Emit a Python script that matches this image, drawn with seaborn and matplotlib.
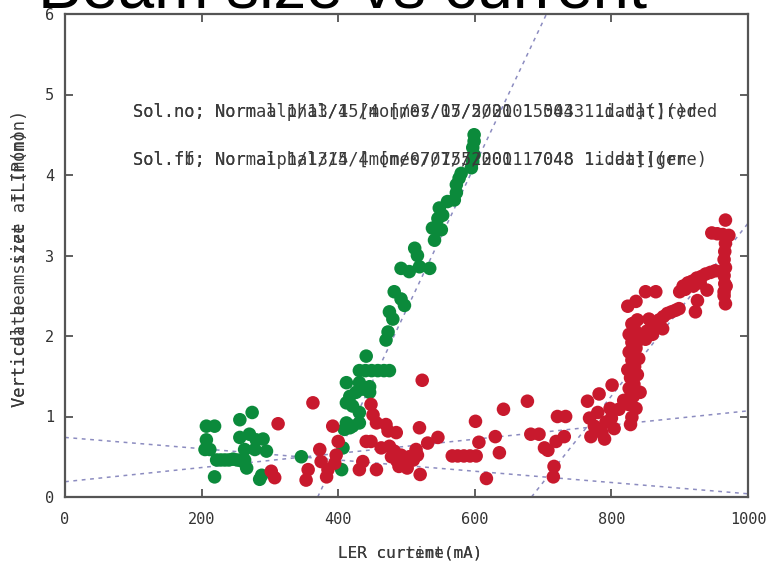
import matplotlib
matplotlib.use("Agg")
import matplotlib.pyplot as plt
import seaborn as sns
import pandas as pd

# Solenoid OFF run (green)
green_x = [207, 219, 207, 205, 212,
           222, 228, 234, 240, 246, 252, 258,
           219, 256, 274, 256, 270, 280, 290,
           263, 278, 295, 263, 266, 288, 285,
           346, 405, 407,
           409, 417, 412, 421, 431, 412, 421, 431,
           412, 417, 426, 436, 446, 431, 446,
           441, 431, 440, 449, 458, 467, 475,
           470, 473, 475, 480, 482, 492, 497,
           492, 504, 519, 534, 512, 516, 541,
           538, 551, 546, 553, 548, 560, 570, 573,
           573, 577, 580, 595, 597, 599, 597, 599, 599]
green_y = [0.88, 0.88, 0.71, 0.59, 0.59,
           0.46, 0.46, 0.46, 0.46, 0.47, 0.46, 0.45,
           0.25, 0.96, 1.05, 0.74, 0.78, 0.71, 0.72,
           0.59, 0.59, 0.57, 0.46, 0.36, 0.27, 0.22,
           0.50, 0.34, 0.61,
           0.84, 0.86, 0.92, 0.88, 0.92, 1.17, 1.13, 1.05,
           1.42, 1.25, 1.30, 1.34, 1.30, 1.42, 1.37,
           1.75, 1.57, 1.57, 1.57, 1.57, 1.57, 1.57,
           1.95, 2.05, 2.30, 2.21, 2.55, 2.46, 2.38,
           2.84, 2.80, 2.86, 2.84, 3.09, 3.00, 3.19,
           3.34, 3.32, 3.46, 3.50, 3.59, 3.67, 3.69, 3.78,
           3.88, 3.96, 4.02, 4.09, 4.17, 4.25, 4.34, 4.42, 4.50]

# Solenoid ON run (red)
red_x = [312, 302, 307, 363, 356, 353, 373, 375, 385, 383, 392, 397, 395, 400,
         448, 451, 456, 470, 473, 441, 448, 436, 431, 456, 463, 475, 485, 482,
         478, 486, 492, 498, 504, 510, 516, 489, 501,
         523, 519, 531, 546, 514, 520,
         567, 575, 584, 593, 602,
         601, 606, 617, 642, 630, 636, 677, 682, 694, 702, 707, 721, 733, 719, 731, 716, 715,
         765, 782, 801,
         768, 775, 780, 786, 792, 798, 804, 770, 790, 800,
         811, 818, 825, 832, 836, 830, 828,
         826, 833, 828, 838, 824, 834, 830, 840, 826, 836, 830, 840, 826, 834, 830, 838, 828, 842,
         824, 836, 850, 865, 833,
         846, 852, 858, 864, 870, 876, 882, 888, 894, 899, 850, 860,
         855, 870, 875,
         900, 905, 912, 918, 925, 932, 938, 945, 952, 908, 920, 930,
         923, 926, 940,
         965, 966, 965, 967, 965, 966, 967, 965, 968,
         947, 955, 963, 972, 967, 967]
red_y = [0.91, 0.32, 0.24, 1.17, 0.34, 0.21, 0.59, 0.44, 0.34, 0.25, 0.88, 0.52, 0.42, 0.69,
         1.15, 1.02, 0.92, 0.90, 0.82, 0.69, 0.69, 0.44, 0.34, 0.34, 0.61, 0.63, 0.80, 0.57,
         0.50, 0.45, 0.52, 0.44, 0.50, 0.46, 0.52, 0.38, 0.36,
         1.45, 0.86, 0.67, 0.74, 0.59, 0.28,
         0.51, 0.51, 0.51, 0.51, 0.51,
         0.94, 0.68, 0.23, 1.09, 0.75, 0.55, 1.19, 0.78, 0.78, 0.61, 0.58, 1.00, 1.00, 0.69, 0.75, 0.38, 0.25,
         1.19, 1.28, 1.39,
         0.98, 0.88, 1.05, 0.80, 0.93, 1.10, 0.85, 0.75, 0.72, 0.98,
         1.09, 1.20, 1.15, 1.25, 1.10, 0.99, 0.90,
         1.35, 1.40, 1.48, 1.52, 1.58, 1.62, 1.70, 1.72, 1.80, 1.85, 1.92, 1.95, 2.02, 2.08, 2.15, 2.20, 1.25, 1.30,
         2.37, 2.43, 2.55, 2.55, 2.16,
         2.00, 2.06, 2.10, 2.14, 2.20, 2.24, 2.28, 2.30, 2.32, 2.34, 1.96, 2.02,
         2.21, 2.13, 2.09,
         2.55, 2.62, 2.66, 2.68, 2.72, 2.74, 2.77, 2.79, 2.81, 2.58, 2.62, 2.66,
         2.30, 2.44, 2.57,
         2.55, 2.65, 2.75, 2.85, 2.95, 3.05, 3.15, 2.50, 2.62,
         3.28, 3.27, 3.26, 3.25, 3.44, 2.40]

# Linear fits: (x0, y0, x1, y1)
fit_steep_off = [370, 0.0, 705, 6.0]
fit_steep_on = [683, 0.0, 1000, 3.40]
fit_low_rise = [0, 0.19, 1000, 1.07]
fit_low_fall = [0, 0.74, 1000, 0.04]

x_ticks = [0, 200, 400, 600, 800, 1000]
y_ticks = [0, 1, 2, 3, 4, 5, 6]

# Two labels were printed on top of each other for every caption
x_titles = ["LER current(mA)", "LER curtime(mA)"]
y_titles = ["Vertical beam size at IP(mon)", "Verticdata   sizet  IL(mon)"]
run_red = ["Sol.no; Normal 1/13/4 [mon/07/15/2001 15043 1.dat]()red",
           "Sol.no; Norm alphal/15/4 [mes/07/5/2001 5043 1i.dat]()red"]
run_green = ["Sol.ff; Normal 1/13/4 [mon/07/15/2001 17048 1.dat](grn",
             "Sol.fb; Nor aiphal/15/4 [mes/07/5/2001 7048 1i.dat](ere)"]
title = "Beam size vs current"

sns.set_theme(style="white")
plt.rcParams["font.family"] = ["DejaVu Sans"]

fig = plt.figure(figsize=(7.71, 5.69), dpi=100)
ax = fig.add_axes([65 / 771, 72 / 569, 683 / 771, 483 / 569])

fit_color = "#8c8cc0"
for fit in (fit_steep_off, fit_steep_on, fit_low_rise, fit_low_fall):
    fdf = pd.DataFrame({"x": [fit[0], fit[2]], "y": [fit[1], fit[3]]})
    sns.lineplot(data=fdf, x="x", y="y", ax=ax, color=fit_color, lw=1.1,
                 linestyle=(0, (2.5, 3)), zorder=1)

df = pd.concat([
    pd.DataFrame({"current": green_x, "size": green_y, "run": "off"}),
    pd.DataFrame({"current": red_x, "size": red_y, "run": "on"}),
])
sns.scatterplot(data=df, x="current", y="size", hue="run",
                palette={"off": "#0b8a3b", "on": "#c8192d"},
                s=95, linewidth=0, ax=ax, legend=False, zorder=3)

ax.set_xlim(0, 1000)
ax.set_ylim(0, 6)
ax.set_xticks(x_ticks)
ax.set_yticks(y_ticks)
ax.set_xticklabels([str(t) for t in x_ticks], family="DejaVu Sans Mono", fontsize=11, color="#333333")
ax.set_yticklabels([str(t) for t in y_ticks], family="DejaVu Sans Mono", fontsize=11, color="#333333")
ax.tick_params(axis="both", direction="in", length=6, width=1.2, color="#444444",
               top=True, right=True, bottom=True, left=True)
ax.tick_params(axis="x", pad=11)
ax.tick_params(axis="y", pad=8)
for sp in ax.spines.values():
    sp.set_color("#555555")
    sp.set_linewidth(1.6)
ax.set_xlabel("")
ax.set_ylabel("")

mono = dict(family="DejaVu Sans Mono", color="#3a3a3a")

for s in x_titles:
    ax.text((338 - 65) / 683, -0.116, s, transform=ax.transAxes, ha="left", va="center",
            fontsize=11.5, **mono)
for s in y_titles:
    ax.text(-0.066, (497 - 407) / 483, s, transform=ax.transAxes, ha="left", va="center",
            rotation=90, rotation_mode="anchor", fontsize=12.3, **mono)

for s in run_red:
    ax.text(100, 4.78, s, ha="left", va="center", fontsize=12.3, **mono)
for s in run_green:
    ax.text(100, 4.19, s, ha="left", va="center", fontsize=12.3, **mono)

fig.text(38 / 771, 1 - 7 / 569, title, ha="left", va="baseline",
         fontsize=47, family="Liberation Sans", color="black")

fig.savefig("out.png", dpi=100)
